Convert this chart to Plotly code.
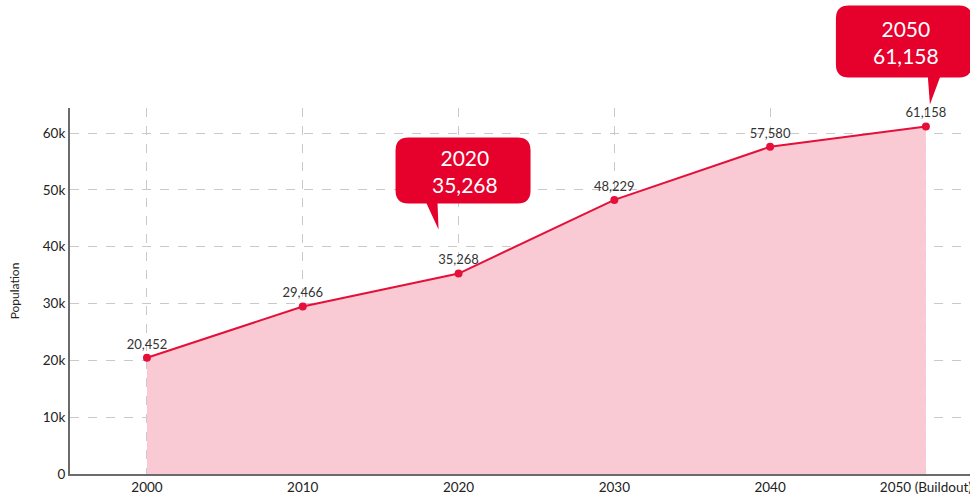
import plotly.graph_objects as go

# Population by decade
years = ["2000", "2010", "2020", "2030", "2040", "2050 (Buildout)"]
population = [20452, 29466, 35268, 48229, 57580, 61158]
y_ticks = [0, 10000, 20000, 30000, 40000, 50000, 60000]
y_tick_labels = ["0", "10k", "20k", "30k", "40k", "50k", "60k"]
Y_MAX = 64400

# Highlighted points shown as callouts: (index, heading)
callouts = [(2, "2020"), (5, "2050")]

RED = "#e6002c"
LINE_RED = "#e5103a"
PINK = "#f9cad4"
GRID = "#c9c9c9"
FONT = "Lato"

xs = list(range(len(years)))
labels = [f"{v:,}" for v in population]

fig = go.Figure()
fig.add_trace(go.Scatter(
    x=xs, y=population,
    mode="lines+markers+text",
    line=dict(color=LINE_RED, width=2),
    marker=dict(color=LINE_RED, size=8),
    fill="tozeroy", fillcolor=PINK,
    text=labels, textposition="top center",
    textfont=dict(family=FONT, size=13, color="#333333"),
    cliponaxis=False,
    hoverinfo="skip",
))


def rounded_box(x0, y0, x1, y1, r, tail):
    """Path for a rounded rectangle (pixel offsets, y up) with a tail on its bottom edge."""
    (tb0, tb1, tx, ty) = tail
    return (
        f"M {x0 + r},{y1} L {x1 - r},{y1} Q {x1},{y1} {x1},{y1 - r} "
        f"L {x1},{y0 + r} Q {x1},{y0} {x1 - r},{y0} "
        f"L {tb1},{y0} L {tx},{ty} L {tb0},{y0} "
        f"L {x0 + r},{y0} Q {x0},{y0} {x0},{y0 + r} "
        f"L {x0},{y1 - r} Q {x0},{y1} {x0 + r},{y1} Z"
    )


# Box geometry in pixels relative to the highlighted point
box_geom = {
    2: dict(box=(-63, 70, 72, 136), tail=(-32, -21, -20, 44), text_dy=103),
    5: dict(box=(-90, 49, 46, 121), tail=(2, 14, 4, 22), text_dy=84),
}

for idx, head in callouts:
    g = box_geom[idx]
    x0, y0, x1, y1 = g["box"]
    # vertical anchor in paper units so the box may rise above the plot area
    fig.add_shape(
        type="path", xref="x", yref="paper",
        xsizemode="pixel", ysizemode="pixel",
        xanchor=xs[idx], yanchor=population[idx] / Y_MAX,
        path=rounded_box(x0, y0, x1, y1, 13, g["tail"]),
        fillcolor=RED, line=dict(width=0), layer="above",
    )
    fig.add_annotation(
        x=xs[idx], y=population[idx], xref="x", yref="y",
        text=f"{head}<br>{population[idx]:,}",
        showarrow=False,
        xshift=(x0 + x1) / 2 + 2, yshift=g["text_dy"],
        font=dict(family=FONT, size=21, color="white"),
        align="center",
    )

fig.update_layout(
    width=970, height=502,
    margin=dict(l=70, r=0, t=108, b=28),
    paper_bgcolor="white", plot_bgcolor="white",
    showlegend=False,
    font=dict(family=FONT, color="#333333"),
)
fig.update_xaxes(
    range=[-0.494, 5.283],
    tickvals=xs, ticktext=years,
    tickfont=dict(family=FONT, size=13.5, color="#222222"),
    ticklabeloverflow="allow",
    showgrid=True, gridcolor=GRID, griddash="dash", gridwidth=1,
    showline=True, linecolor="#6b6b6b", linewidth=2,
    zeroline=False, ticks="", automargin=False,
)
fig.update_yaxes(
    range=[0, Y_MAX],
    tickvals=y_ticks, ticktext=y_tick_labels,
    tickfont=dict(family=FONT, size=13.5, color="#222222"),
    title=dict(text="Population", font=dict(family=FONT, size=12, color="#222222"), standoff=21),
    showgrid=True, gridcolor=GRID, griddash="dash", gridwidth=1,
    showline=True, linecolor="#6b6b6b", linewidth=2,
    zeroline=False, ticks="", ticklen=0, automargin=False,
)

fig.write_html("out.html")
